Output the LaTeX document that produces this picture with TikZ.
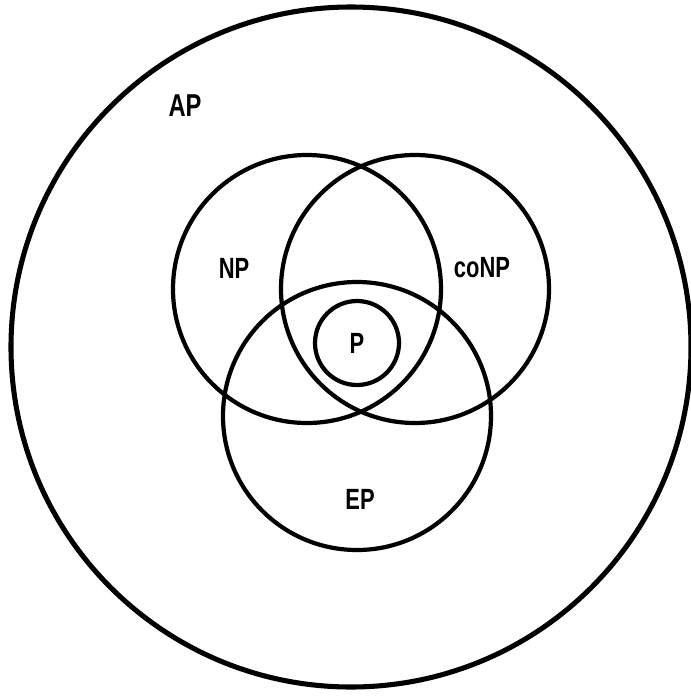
\documentclass[tikz,border=0pt]{standalone}
\usepackage{fontspec}
\newfontfamily\venfont[FakeStretch=0.75]{Liberation Sans}
\usetikzlibrary{positioning}
\tikzset{
	classset/.style={circle, draw=black, line width=3.0pt, minimum size=6.7cm, inner sep=0pt},
	outerset/.style={circle, draw=black, line width=3.6pt, minimum size=17.0cm, inner sep=0pt},
	innerset/.style={circle, draw=black, line width=3.0pt, minimum size=2.1cm, inner sep=0pt},
	classname/.style={inner sep=0pt, font=\venfont\bfseries\fontsize{20.8}{24}\selectfont},
}

\begin{document}
\begin{tikzpicture}
		\useasboundingbox (0,0) rectangle (17.25,-17.4);
		\node[outerset] (ap) at (8.775,-8.675) {};
		\node[classset] (np) at (7.675,-7.225) {};
		\node[classset] (conp) at (10.375,-7.225) {};
		\node[classset] (ep) at (8.925,-10.4) {};
		\node[innerset] (p) at (8.925,-8.575) {};
		% labels
		\node[classname, font=\venfont\bfseries\fontsize{22.5}{26}\selectfont] (aplab) at (4.625,-2.65) {AP};
		\node[classname] (nplab) at (5.85,-6.7) {NP};
		\node[classname] (conplab) at (12.05,-6.7) {coNP};
		\node[classname] (plab) at (p.center) {P};
		\node[classname] (eplab) at (9.0,-12.475) {EP};
	\end{tikzpicture}
\end{document}
